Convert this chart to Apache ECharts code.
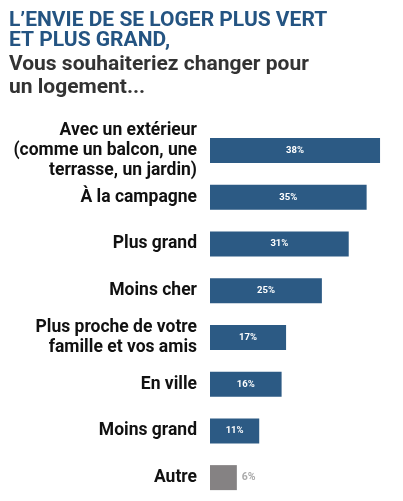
<!DOCTYPE html>
<html>
<head>
<meta charset="utf-8">
<script src="https://cdn.jsdelivr.net/npm/echarts@6/dist/echarts.min.js"></script>
<style>
html,body{margin:0;padding:0;background:#fff;}
#c{width:403px;height:501px;}
</style>
</head>
<body>
<div id="c"></div>
<script>
const categories = [
  "Avec un extérieur\n(comme un balcon, une\nterrasse, un jardin)",
  "À la campagne",
  "Plus grand",
  "Moins cher",
  "Plus proche de votre\nfamille et vos amis",
  "En ville",
  "Moins grand",
  "Autre"
];
const values = [38, 35, 31, 25, 17, 16, 11, 6];
const titleLines = ["L’ENVIE DE SE LOGER PLUS VERT", "ET PLUS GRAND,"];
const subtitleLines = ["Vous souhaiteriez changer pour", "un logement..."];

const BLUE = '#2c5a84';
const GRAY = '#858283';
const lastIdx = values.length - 1;

const chart = echarts.init(document.getElementById('c'));
chart.setOption({
  backgroundColor: '#fff',
  animation: false,
  title: {
    text: titleLines.join('\n'),
    subtext: subtitleLines.join('\n'),
    left: 4, top: 6,
    itemGap: 1,
    textStyle: { fontFamily: 'Roboto', fontWeight: 'bold', fontSize: 21, lineHeight: 20, color: '#245482' },
    subtextStyle: { fontFamily: 'Roboto', fontWeight: 'bold', fontSize: 21, lineHeight: 23, color: '#333' }
  },
  grid: { left: 210, right: 14, top: 127, bottom: 0, containLabel: false },
  xAxis: { type: 'value', min: 0, max: 40, show: false },
  yAxis: {
    type: 'category', inverse: true, data: categories,
    axisLine: { show: false }, axisTick: { show: false },
    axisLabel: { margin: 13, fontFamily: 'Roboto', fontWeight: 'bold', fontSize: 17.5, lineHeight: 20, color: '#111', align: 'right' }
  },
  series: [{
    type: 'bar', barWidth: 25,
    data: values.map((v, i) => ({
      value: v,
      itemStyle: { color: i === lastIdx ? GRAY : BLUE },
      label: i === lastIdx
        ? { show: true, position: 'right', distance: 5, color: '#aaa', fontSize: 10.5, fontWeight: 'bold', fontFamily: 'Roboto', formatter: '{c}%' }
        : { show: true, position: 'inside', color: '#fff', fontSize: 9.5, fontWeight: 'bold', fontFamily: 'Roboto', formatter: '{c}%' }
    }))
  }]
});
</script>
</body>
</html>
